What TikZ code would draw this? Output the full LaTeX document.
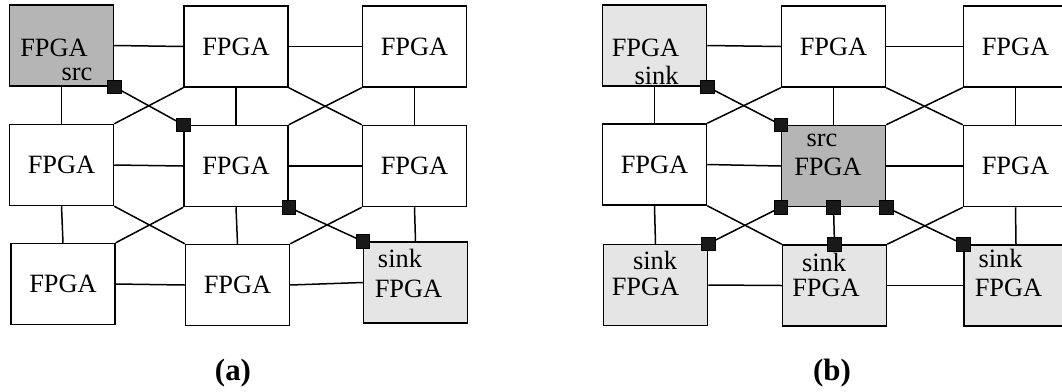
\documentclass[tikz,border=0pt]{standalone}
\usepackage{fontspec}
\setmainfont{Liberation Serif}
\usepackage{tikz}

\definecolor{srcgray}{gray}{0.71}
\definecolor{sinkgray}{gray}{0.9}
\definecolor{portblack}{gray}{0.1}

\begin{document}
\begin{tikzpicture}
  [x=1bp,y=-1bp,
   every node/.style={font=\fontsize{26.5}{30}\selectfont},
   fpga/.style={draw,rectangle,line width=1.5bp,minimum width=104bp,minimum height=81bp,inner sep=0pt,fill=white},
   srcbox/.style={fpga,fill=srcgray},
   sinkbox/.style={fpga,fill=sinkgray},
   word/.style={inner sep=0pt},
   port/.style={rectangle,draw=black,fill=portblack,line width=0.6bp,minimum size=13.5bp,inner sep=0pt},
   link/.style={line width=1.5bp},
   caption/.style={inner sep=0pt,font=\fontsize{31}{34}\selectfont\bfseries}]
  \useasboundingbox (0,0) rectangle (1062,391);
  \clip (0,0) rectangle (1062,391);

  % (a) one source, one sink
  \node[srcbox] (a11) at (61.5,45.5) {};
  \node[fpga] (a12) at (236,46.5) {FPGA};
  \node[fpga] (a13) at (414.5,46.5) {FPGA};
  \node[fpga] (a21) at (61.5,165) {FPGA};
  \node[fpga] (a22) at (236,166) {FPGA};
  \node[fpga] (a23) at (414.5,166) {FPGA};
  \node[fpga] (a31) at (63,284) {FPGA};
  \node[fpga] (a32) at (237.5,285) {FPGA};
  \node[sinkbox] (a33) at (415.5,282.5) {};
  \node[word] (a11n) at (54,48) {FPGA};
  \node[word] (a11s) at (77,74) {src};
  \node[word] (a33s) at (400,258) {sink};
  \node[word] (a33n) at (408.5,289) {FPGA};

  % (b) one source, several sinks
  \node[sinkbox] (b11) at (654.5,45.5) {};
  \node[fpga] (b12) at (833.5,46.5) {FPGA};
  \node[fpga] (b13) at (1015.5,46.5) {FPGA};
  \node[fpga] (b21) at (654.5,164.5) {FPGA};
  \node[srcbox] (b22) at (833.5,166) {};
  \node[fpga] (b23) at (1015.5,166) {FPGA};
  \node[sinkbox] (b31) at (655.5,285) {};
  \node[sinkbox] (b32) at (834.5,285.5) {};
  \node[sinkbox] (b33) at (1016,285.5) {};
  \node[word] (b11n) at (645.5,48) {FPGA};
  \node[word] (b11s) at (656.5,75) {sink};
  \node[word] (b22s) at (822,140) {src};
  \node[word] (b22n) at (828,167) {FPGA};
  \node[word] (b31s) at (655,260) {sink};
  \node[word] (b31n) at (645.5,287) {FPGA};
  \node[word] (b32s) at (824,262) {sink};
  \node[word] (b32n) at (826,288) {FPGA};
  \node[word] (b33s) at (1000.5,258) {sink};
  \node[word] (b33n) at (1008.5,288) {FPGA};

  % mesh links plus the crossing diagonals
  \foreach \g in {a,b} {
    \foreach \r in {1,2,3}
      \foreach \c/\d in {1/2,2/3}
        \draw[link] (\g\r\c.east) -- (\g\r\d.west);
    \foreach \r/\s in {1/2,2/3} {
      \foreach \c in {1,2,3}
        \draw[link] (\g\r\c.south) -- (\g\s\c.north);
      \foreach \c/\d in {1/2,2/3} {
        \draw[link] (\g\r\c.south east) -- (\g\s\d.north west);
        \draw[link] (\g\r\d.south west) -- (\g\s\c.north east);
      }
    }
  }

  % ports on the routed path
  \foreach \p in {a11.south east,a22.north west,a22.south east,a33.north west,
                  b11.south east,b22.north west,b22.south west,b22.south,b22.south east,
                  b31.north east,b32.north,b33.north west}
    \node[port] at (\p) {};

  \node[caption] (capa) at (233,373) {(a)};
  \node[caption] (capb) at (832,373) {(b)};
\end{tikzpicture}
\end{document}
